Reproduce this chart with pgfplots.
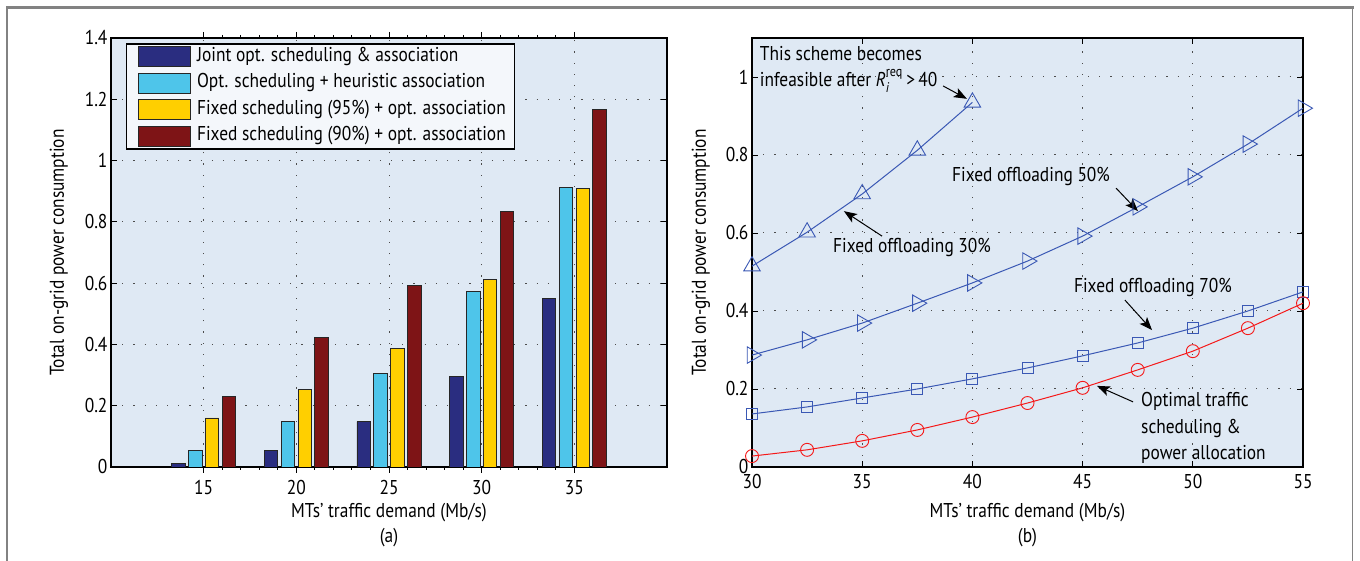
\documentclass[border=0pt]{standalone}
\usepackage{amsmath}
\usepackage{fontspec}
\setmainfont{PT Sans}[FakeStretch=0.87]
\usepackage{pgfplots}
\pgfplotsset{compat=1.18}
\usetikzlibrary{arrows.meta}
\definecolor{axisbg}{RGB}{223,233,244}
\definecolor{legbg}{RGB}{244,247,251}
\definecolor{barA}{RGB}{42,45,128}
\definecolor{barB}{RGB}{78,197,234}
\definecolor{barC}{RGB}{255,207,0}
\definecolor{barD}{RGB}{126,20,22}
\definecolor{lineblue}{RGB}{58,88,180}
\definecolor{linered}{RGB}{245,25,25}
\definecolor{framegray}{RGB}{130,130,130}
\newcommand{\fs}{\fontsize{20}{24}\selectfont}
\pgfplotsset{
  mystyle/.style={
    scale only axis,
    axis background/.style={fill=axisbg},
    axis line style={line width=1.3pt, black},
    tick style={line width=0.9pt, black},
    major tick length=6pt,
    minor tick length=3pt,
    tick align=inside,
    grid=major,
    grid style={line width=1pt, black!70, dash pattern=on 1.2pt off 10pt},
    ticklabel style={font=\fs},
    xticklabel style={yshift=-4pt},
    /pgf/number format/assume math mode=true,
    enlargelimits=false,
    every axis x label/.style={at={(axis description cs:0.5,0)}, anchor=center, yshift=-46pt, font=\fs},
  },
  legimg/.style={legend image code/.code={\path[draw=none, fill=none] (0pt,0pt) (62pt,0pt); \draw[##1, line width=0.8pt] (7pt,-10pt) rectangle (59pt,10pt);}},
}
\tikzset{
  ann/.style={font=\fontsize{20}{26.7}\selectfont, inner sep=0pt},
  arr/.style={-{Stealth[length=13pt,width=10pt,inset=3pt]}, line width=1pt, black},
}
\begin{document}
\begin{tikzpicture}
\useasboundingbox (0pt,0pt) rectangle (1360pt,561pt);
\draw[framegray, line width=2.4pt] (6pt,553.5pt) -- (1353.5pt,553.5pt);
\draw[framegray, line width=1.2pt] (7pt,0pt) -- (7pt,553.5pt);
\draw[framegray, line width=1.2pt] (1352.5pt,0pt) -- (1352.5pt,553.5pt);

\begin{axis}[mystyle, name=A,
  at={(111pt,94pt)}, anchor=south west,
  width=556pt, height=429pt,
  xmin=10, xmax=40, ymin=0, ymax=1.4,
  xtick={15,20,25,30,35},
  ytick={0,0.2,0.4,0.6,0.8,1,1.2,1.4},
  minor x tick num=4,
  ybar, bar width=0.727,
  xlabel={MTs' traffic demand (Mb/s)},
  ylabel={Total on-grid power consumption},
  every axis y label/.style={at={(axis description cs:-0.0935,0.5)}, rotate=90, anchor=center, font=\fs},
  legend cell align=left,
  legend style={at={(axis description cs:0.0265,0.9885)}, anchor=north west,
    fill=legbg, draw=black, line width=1.6pt,
    font=\fs,
    inner xsep=5pt, inner ysep=1.5pt, row sep=3.5pt,
    nodes={inner ysep=2pt, inner xsep=3.5pt, text height=14pt, text depth=5pt}},
]
\addplot[legimg, bar shift=-1.364, fill=barA, draw=black!85, line width=0.8pt]
  coordinates {(15,0.012) (20,0.055) (25,0.148) (30,0.295) (35,0.549)};
\addlegendentry{Joint opt. scheduling \& association}
\addplot[legimg, bar shift=-0.4545, fill=barB, draw=black!85, line width=0.8pt]
  coordinates {(15,0.055) (20,0.150) (25,0.305) (30,0.572) (35,0.913)};
\addlegendentry{Opt. scheduling + heuristic association}
\addplot[legimg, bar shift=0.4545, fill=barC, draw=black!85, line width=0.8pt]
  coordinates {(15,0.160) (20,0.252) (25,0.388) (30,0.612) (35,0.909)};
\addlegendentry{Fixed scheduling (95\%) + opt. association}
\addplot[legimg, bar shift=1.364, fill=barD, draw=black!85, line width=0.8pt]
  coordinates {(15,0.230) (20,0.422) (25,0.593) (30,0.835) (35,1.168)};
\addlegendentry{Fixed scheduling (90\%) + opt. association}
\end{axis}
\node[font=\fs] at ([yshift=-71pt]A.south) {(a)};

\begin{axis}[mystyle, name=B,
  at={(752pt,94pt)}, anchor=south west,
  width=551pt, height=429pt,
  xmin=30, xmax=55, ymin=0, ymax=1.1,
  xtick={30,35,40,45,50,55},
  ytick={0,0.2,0.4,0.6,0.8,1},
  clip=false,
  xlabel={MTs' traffic demand (Mb/s)},
  ylabel={Total on-grid power consumption},
  every axis y label/.style={at={(axis description cs:-0.0926,0.5)}, rotate=90, anchor=center, font=\fs},
]
\addplot[lineblue, line width=1pt, mark=triangle, mark size=9.5pt, mark options={solid, line width=0.9pt}]
  coordinates {(30,0.515) (32.5,0.602) (35,0.700) (37.5,0.812) (40,0.935)};
\addplot[lineblue, line width=1pt, mark=triangle, mark size=9.5pt, mark options={solid, line width=0.9pt, rotate=-90}]
  coordinates {(30,0.287) (32.5,0.326) (35,0.369) (37.5,0.420) (40,0.472) (42.5,0.528) (45,0.592) (47.5,0.667) (50,0.744) (52.5,0.828) (55,0.920)};
\addplot[lineblue, line width=1pt, mark=square, mark size=5.5pt, mark options={solid, line width=0.9pt}]
  coordinates {(30,0.136) (32.5,0.154) (35,0.177) (37.5,0.200) (40,0.226) (42.5,0.254) (45,0.285) (47.5,0.318) (50,0.356) (52.5,0.400) (55,0.449)};
\addplot[linered, line width=1pt, mark=o, mark size=6.5pt, mark options={solid, line width=0.9pt}]
  coordinates {(30,0.028) (32.5,0.044) (35,0.067) (37.5,0.095) (40,0.128) (42.5,0.164) (45,0.203) (47.5,0.249) (50,0.297) (52.5,0.356) (55,0.420)};

\node[ann, anchor=north west, align=left] at (axis cs:30.35,1.08)
  {This scheme becomes\\infeasible after $\textit{R}_{\textit{i}}^{\textrm{req}}$\,>\,40};
\draw[arr] (axis cs:38.67,0.977) -- (axis cs:39.75,0.944);
\node[ann] at (axis cs:42.66,0.746) {Fixed offloading 50\%};
\draw[arr] (axis cs:46.52,0.715) -- (axis cs:47.51,0.656);
\node[ann] at (axis cs:37.26,0.564) {Fixed offloading 30\%};
\draw[arr] (axis cs:35.9,0.592) -- (axis cs:34.17,0.656);
\node[ann] at (axis cs:48.19,0.459) {Fixed offloading 70\%};
\draw[arr] (axis cs:46.92,0.428) -- (axis cs:48.15,0.351);
\node[ann, anchor=west, align=left] at (axis cs:47.65,0.10)
  {Optimal traffic\\scheduling \&\\power allocation};
\draw[arr] (axis cs:47.29,0.167) -- (axis cs:45.65,0.208);
\end{axis}
\node[font=\fs] at ([yshift=-71pt]B.south) {(b)};
\end{tikzpicture}
\end{document}
